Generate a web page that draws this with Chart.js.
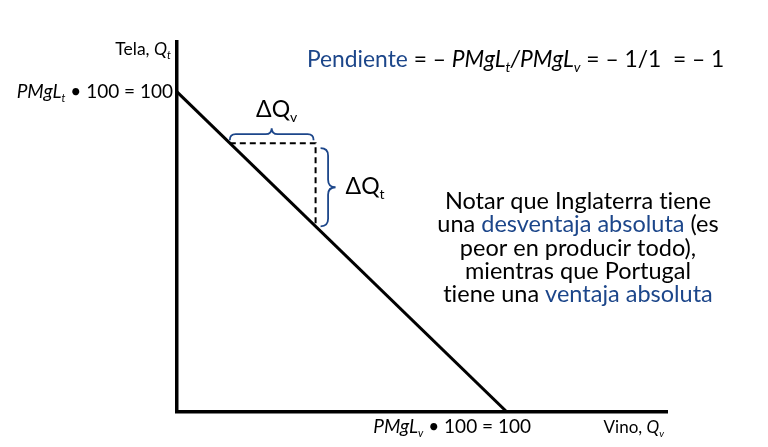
<!DOCTYPE html>
<html>
<head>
<meta charset="utf-8">
<script src="https://cdn.jsdelivr.net/npm/chart.js@4.4.1/dist/chart.umd.min.js"></script>
<style>
  html, body { margin: 0; padding: 0; background: #fff; }
  #wrap { width: 768px; height: 447px; }
</style>
</head>
<body>
<div id="wrap"><canvas id="c" width="768" height="447"></canvas></div>
<script>
// frontera de posibilidades de produccion (Inglaterra)
const ppfX = [0, 100];
const ppfY = [100, 0];
// triangulo de la pendiente
const dashX = [16, 42, 42];
const dashY = [84, 84, 58];
const axisMax = { x: 148.5, y: 115.6 };

const BLUE = '#1c468a';
const FONT = 'Lato, "Open Sans", sans-serif';

// runs: [texto, estilo] ; estilo: i = italica, s = subindice, b = azul
const slopeRuns = [['Pendiente', 'b'], [' = \u2013 ', ''], ['PMgL', 'i'], ['t', 'is'], ['/', 'i'], ['PMgL', 'i'], ['v', 'is'], [' = \u2013 1/1  = \u2013 1', '']];
const yLabelRuns = [['Tela, ', ''], ['Q', 'i'], ['t', 'is']];
const yInterceptRuns = [['PMgL', 'i'], ['t', 'is'], [' \u2022 100 = 100', '']];
const xInterceptRuns = [['PMgL', 'i'], ['v', 'is'], [' \u2022 100 = 100', '']];
const xLabelRuns = [['Vino, ', ''], ['Q', 'i'], ['v', 'is']];
const dQvRuns = [['\u0394Q', ''], ['v', 's']];
const dQtRuns = [['\u0394Q', ''], ['t', 's']];
const noteLines = [
  [['Notar que Inglaterra tiene', '']],
  [['una ', ''], ['desventaja absoluta', 'b'], [' (es', '']],
  [['peor en producir todo),', '']],
  [['mientras que Portugal', '']],
  [['tiene una ', ''], ['ventaja absoluta', 'b']]
];

function runFont(style, size) {
  const s = style.includes('s') ? Math.round(size * 0.6) : size;
  return (style.includes('i') ? 'italic ' : '') + s + 'px ' + FONT;
}

// evita la ligadura "ti" de Lato
const noLig = t => t.replace(/t(?=i)/g, 't\u200C').replace(/f(?=[il])/g, 'f\u200C');

function drawRuns(ctx, runs, x, y, size, align) {
  let total = 0;
  runs.forEach(r => { ctx.font = runFont(r[1], size); total += ctx.measureText(noLig(r[0])).width; });
  let cx = align === 'right' ? x - total : align === 'center' ? x - total / 2 : x;
  ctx.textAlign = 'left';
  ctx.textBaseline = 'alphabetic';
  runs.forEach(r => {
    const txt = noLig(r[0]);
    ctx.font = runFont(r[1], size);
    ctx.fillStyle = r[1].includes('b') ? BLUE : '#000';
    const dy = r[1].includes('s') ? size * 0.22 : 0;
    ctx.fillText(txt, cx, y + dy);
    cx += ctx.measureText(txt).width;
  });
}

function braceH(ctx, x1, x2, y, h) {
  const m = (x1 + x2) / 2, b = y - h / 2, r = h / 2;
  ctx.beginPath();
  ctx.moveTo(x1, y);
  ctx.quadraticCurveTo(x1, b, x1 + r, b);
  ctx.lineTo(m - r, b);
  ctx.quadraticCurveTo(m, b, m, y - h);
  ctx.quadraticCurveTo(m, b, m + r, b);
  ctx.lineTo(x2 - r, b);
  ctx.quadraticCurveTo(x2, b, x2, y);
  ctx.stroke();
}

function braceV(ctx, x, y1, y2, w) {
  const m = (y1 + y2) / 2, b = x + w / 2, r = w / 2;
  ctx.beginPath();
  ctx.moveTo(x, y1);
  ctx.quadraticCurveTo(b, y1, b, y1 + r);
  ctx.lineTo(b, m - r);
  ctx.quadraticCurveTo(b, m, x + w, m);
  ctx.quadraticCurveTo(b, m, b, m + r);
  ctx.lineTo(b, y2 - r);
  ctx.quadraticCurveTo(b, y2, x, y2);
  ctx.stroke();
}

const annotations = {
  id: 'annotations',
  afterDraw(chart) {
    const { ctx, scales: { x, y } } = chart;
    ctx.save();
    const xl = x.getPixelForValue(dashX[0]);
    const xr = x.getPixelForValue(dashX[1]);
    const yt = y.getPixelForValue(dashY[0]);
    const yb = y.getPixelForValue(dashY[2]);

    ctx.strokeStyle = BLUE;
    ctx.lineWidth = 1.8;
    braceH(ctx, xl, xr - 2, yt - 3, 12);
    braceV(ctx, xr + 5, yt + 5, yb, 15);
    drawRuns(ctx, dQvRuns, (xl + xr) / 2 + 4, yt - 26, 23, 'center');
    drawRuns(ctx, dQtRuns, xr + 30, (yt + yb) / 2 + 9, 23, 'left');

    const ax = x.getPixelForValue(0);
    drawRuns(ctx, yLabelRuns, ax - 6, 55, 17.5, 'right');
    drawRuns(ctx, yInterceptRuns, ax - 4, y.getPixelForValue(ppfY[0]) + 6, 19, 'right');
    drawRuns(ctx, xInterceptRuns, x.getPixelForValue(ppfX[1]) + 24, 433, 19, 'right');
    drawRuns(ctx, xLabelRuns, x.right - 3, 433, 17, 'right');

    drawRuns(ctx, slopeRuns, 307, 67, 22.8, 'left');
    noteLines.forEach((line, i) => drawRuns(ctx, line, 578, 209 + i * 23.3, 23.5, 'center'));
    ctx.restore();
  }
};

const axisOpts = max => ({
  type: 'linear',
  min: 0,
  max: max,
  grid: { display: false, drawTicks: false },
  ticks: { display: false },
  border: { display: true, color: '#000', width: 3.5 }
});

new Chart(document.getElementById('c'), {
  type: 'scatter',
  data: {
    datasets: [
      {
        data: ppfX.map((v, i) => ({ x: v, y: ppfY[i] })),
        showLine: true,
        borderColor: '#000',
        borderWidth: 3,
        pointRadius: 0
      },
      {
        data: dashX.map((v, i) => ({ x: v, y: dashY[i] })),
        showLine: true,
        borderColor: '#000',
        borderWidth: 2,
        borderDash: [6, 4],
        pointRadius: 0
      }
    ]
  },
  options: {
    responsive: false,
    animation: false,
    layout: { padding: { left: 177, right: 101, top: 42, bottom: 35 } },
    plugins: { legend: { display: false }, tooltip: { enabled: false } },
    scales: { x: axisOpts(axisMax.x), y: axisOpts(axisMax.y) }
  },
  plugins: [annotations]
});
</script>
</body>
</html>
